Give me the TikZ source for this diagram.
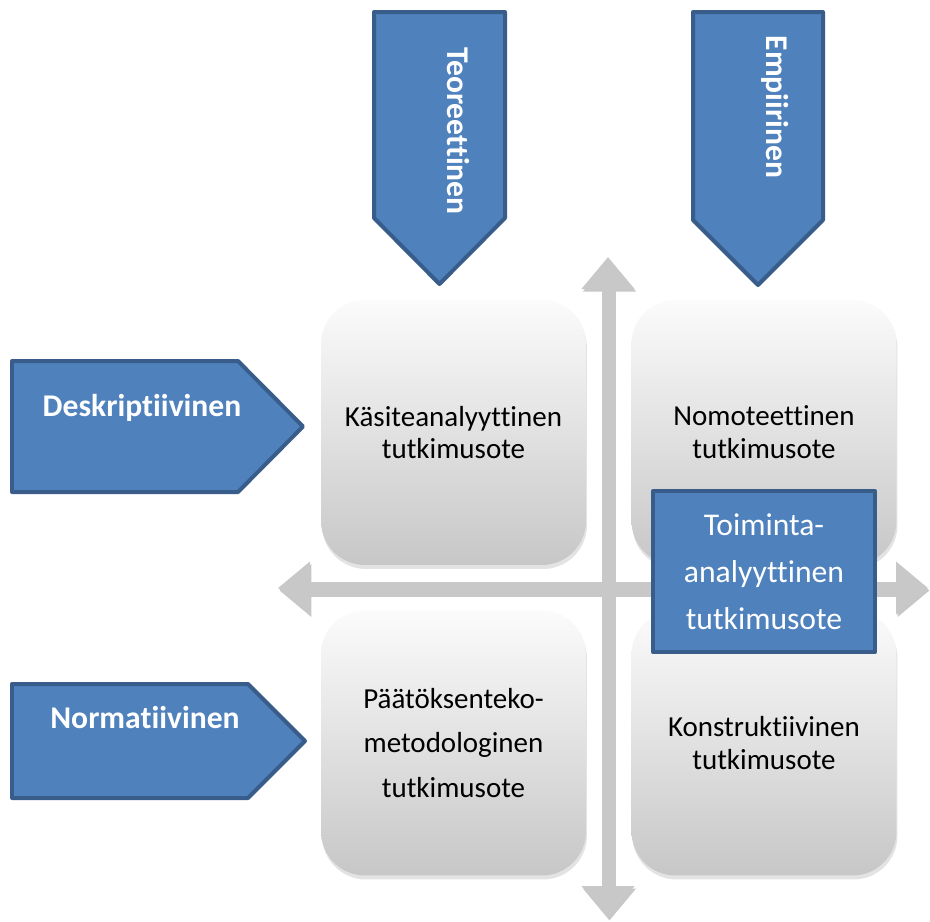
\documentclass[tikz,border=0pt]{standalone}
\usepackage{fontspec}
\setmainfont{Carlito}[Ligatures={CommonOff,ContextualOff}]
\usetikzlibrary{arrows.meta,shadows,positioning}
\definecolor{boxblue}{HTML}{4F81BD}
\definecolor{boxedge}{HTML}{385D8A}
\definecolor{crossgray}{HTML}{C8C8C8}

\begin{document}
\begin{tikzpicture}[
    x=0.02cm, y=-0.02cm,
    line join=round,
    blueshape/.style={fill=boxblue, draw=boxedge, line width=0.08cm},
    bluetext/.style={text=white, inner sep=0pt, font=\fontsize{18}{22}\selectfont\bfseries},
    methodbox/.style={rectangle, rounded corners=0.88cm, minimum width=5.3cm, minimum height=5.3cm,
        top color=gray!3, middle color=gray!14, bottom color=gray!44,
        drop shadow={shadow xshift=0.02cm, shadow yshift=-0.08cm, opacity=0.22},
        align=center, font=\fontsize{16.5}{18.7}\selectfont},
    actionbox/.style={rectangle, fill=boxblue, draw=boxedge, line width=0.08cm,
        minimum width=4.44cm, minimum height=3.22cm, text=white, align=center,
        font=\fontsize{18}{26.6}\selectfont},
    crossarrow/.style={crossgray, line width=0.26cm,
        {Triangle[width=1.02cm,length=0.64cm]}-{Triangle[width=1.02cm,length=0.64cm]}}
]
  \path[fill=white] (0,0) rectangle (930,921);
  \useasboundingbox (0,0) rectangle (930,921);

  % method boxes
  \node[methodbox] (kasite) at (453.5,432.5) {Käsiteanalyyttinen\\tutkimusote};
  \node[methodbox] (nomo)   at (764,432.5)   {Nomoteettinen\\tutkimusote};
  \node[methodbox, font=\fontsize{16.5}{25.5}\selectfont] (paatos) at (453.5,743)
      {Päätöksenteko-\\metodologinen\\tutkimusote};
  \node[methodbox] (konstr) at (764,743)     {Konstruktiivinen\\tutkimusote};

  % axes
  \coordinate (ytop)   at (608,257);
  \coordinate (ybot)   at (608,918);
  \coordinate (xleft)  at (278,588);
  \coordinate (xright) at (928,588);
  \draw[crossarrow, black!22, transform canvas={xshift=0.03cm, yshift=-0.05cm}] (ytop) -- (ybot);
  \draw[crossarrow, black!22, transform canvas={xshift=0.03cm, yshift=-0.05cm}] (xleft) -- (xright);
  \draw[crossarrow] (ytop) -- (ybot);
  \draw[crossarrow] (xleft) -- (xright);

  \node[actionbox] (toiminta) at (764,571.5) {Toiminta-\\analyyttinen\\tutkimusote};

  % blue arrows
  \draw[blueshape] (374,12) -- (505,12) -- (505,218) -- (439.5,284) -- (374,218) -- cycle;
  \draw[blueshape] (693,12) -- (823,12) -- (823,220) -- (758,285) -- (693,220) -- cycle;
  \draw[blueshape] (12,361) -- (238,361) -- (303,426.5) -- (238,492) -- (12,492) -- cycle;
  \draw[blueshape] (12,684) -- (248,684) -- (305,741) -- (248,798) -- (12,798) -- cycle;

  \node[bluetext, rotate=-90] (teor) at (458,131) {Teoreettinen};
  \node[bluetext, rotate=-90] (empi) at (775,107) {Empiirinen};
  \node[bluetext] (desk) at (142,408) {Deskriptiivinen};
  \node[bluetext] (norm) at (145,718) {Normatiivinen};
\end{tikzpicture}
\end{document}
